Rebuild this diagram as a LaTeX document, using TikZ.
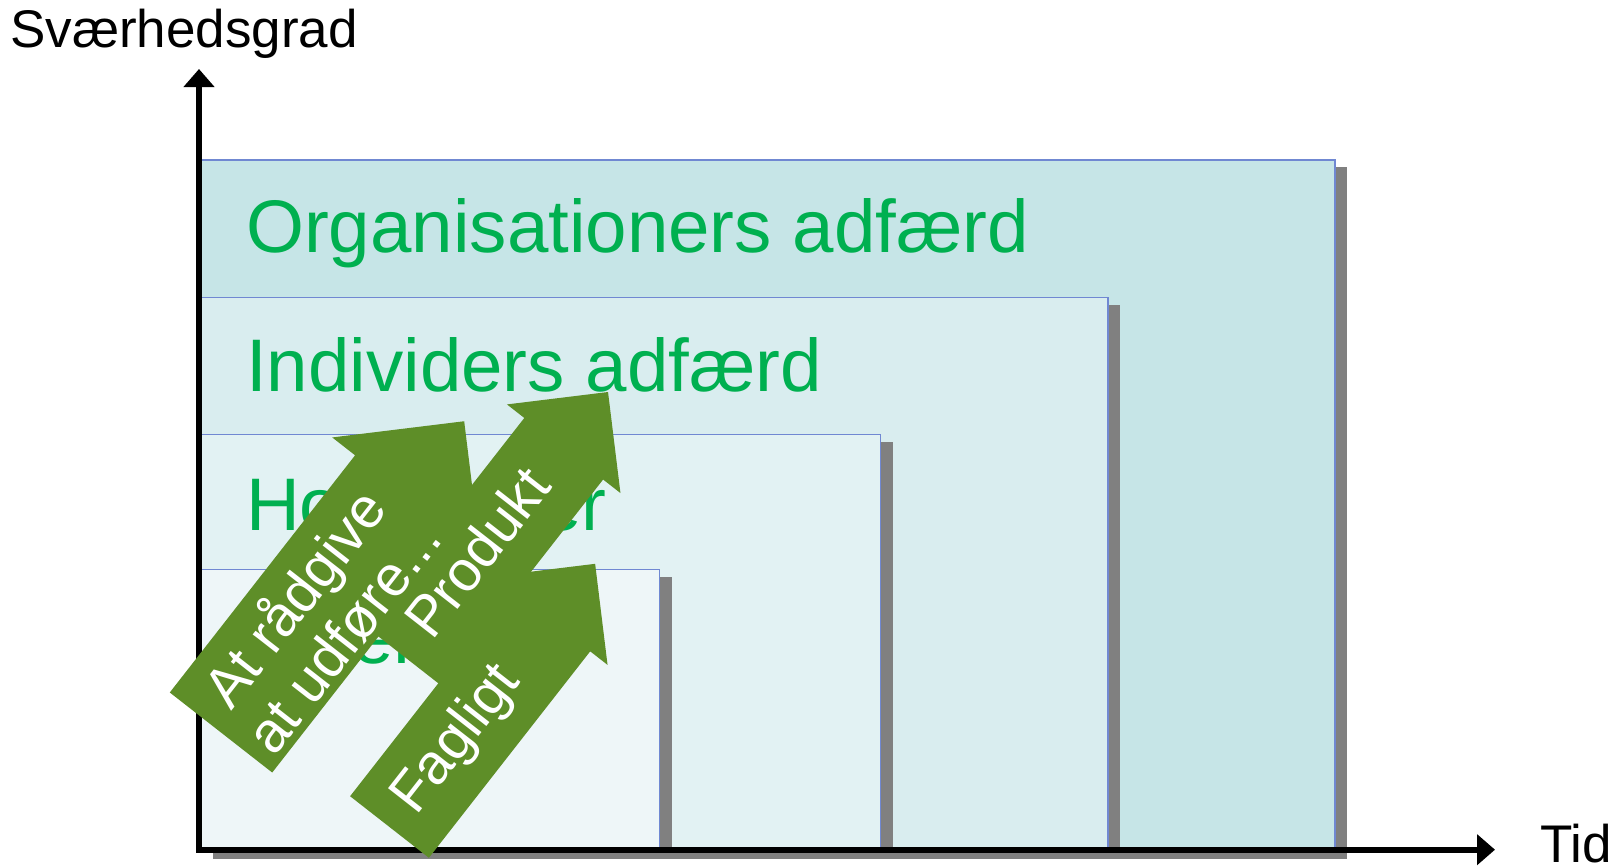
\documentclass[tikz,border=0pt]{standalone}
\usepackage{fontspec}
\setmainfont{Liberation Sans}
\usetikzlibrary{arrows.meta}
\definecolor{orgfill}{HTML}{C6E5E7}
\definecolor{indfill}{HTML}{D9EDEF}
\definecolor{holdfill}{HTML}{E2F2F3}
\definecolor{videnfill}{HTML}{EEF6F8}
\definecolor{boxline}{HTML}{7088D2}
\definecolor{shadowgray}{HTML}{808080}
\definecolor{levelgreen}{HTML}{00B050}
\definecolor{arrowgreen}{HTML}{5E8E28}
\begin{document}
\begin{tikzpicture}[x=1pt,y=-1pt,
  levelbox/.style={draw=boxline, line width=1.8pt},
  boxshadow/.style={fill=shadowgray, draw=none},
  leveltext/.style={text=levelgreen, anchor=base west, inner sep=0pt,
    font=\fontsize{74.5}{89}\selectfont},
  axisline/.style={line width=6pt, -{Triangle[length=18pt,width=30pt]}},
  axislabel/.style={anchor=base west, inner sep=0pt,
    font=\fontsize{53}{64}\selectfont},
  blockarrow/.style={fill=arrowgreen, draw=none},
  arrowtext/.style={text=white, align=center, inner sep=0pt, transform shape,
    font=\fontsize{57}{62}\selectfont}]
\useasboundingbox (0,0) rectangle (1624,867);

% nested levels, each with its drop shadow
\fill[boxshadow] (213,167) rectangle (1347,859);
\filldraw[levelbox, fill=orgfill] (201,160) rectangle (1335,852);
\fill[boxshadow] (213,304.5) rectangle (1120,859);
\filldraw[levelbox, fill=indfill] (201,297.5) rectangle (1108,852);
\fill[boxshadow] (213,441.5) rectangle (892.5,859);
\filldraw[levelbox, fill=holdfill] (201,434.5) rectangle (880.5,852);
\fill[boxshadow] (213,576.5) rectangle (671.5,859);
\filldraw[levelbox, fill=videnfill] (201,569.5) rectangle (659.5,852);

\node[leveltext] (org) at (246,252) {Organisationers adfærd};
\node[leveltext] (ind) at (246,391) {Individers adfærd};
\node[leveltext] (hold) at (246,530) {Holdninger};
\node[leveltext] (viden) at (246,663) {Viden};

% axes
\coordinate (ybottom) at (199,852.7);
\coordinate (ytop) at (199,69);
\coordinate (xleft) at (196,849.7);
\coordinate (xright) at (1495,849.7);
\draw[axisline] (ybottom) -- (ytop);
\draw[axisline] (xleft) -- (xright);
\node[axislabel] (ylabel) at (10,48) {Sværhedsgrad};
\node[axislabel] (xlabel) at (1540,862) {Tid};

% block arrows
\begin{scope}[shift={(221,732.5)}, rotate=52]
  \fill[blockarrow] (0,-65) -- (301,-65) -- (301,-94) -- (395,0)
    -- (301,94) -- (301,65) -- (0,65) -- cycle;
\end{scope}
\begin{scope}[shift={(402.4,655.2)}, rotate=52]
  \fill[blockarrow] (0,-50) -- (262,-50) -- (262,-72) -- (334,0)
    -- (262,72) -- (262,50) -- (0,50) -- cycle;
\end{scope}
\begin{scope}[shift={(389.5,827)}, rotate=52]
  \fill[blockarrow] (0,-50) -- (262,-50) -- (262,-72) -- (334,0)
    -- (262,72) -- (262,50) -- (0,50) -- cycle;
\end{scope}

% arrow captions
\begin{scope}[shift={(221,732.5)}, rotate=52]
  \node[arrowtext] (raad) at (151,4) {At rådgive\\at udføre...};
\end{scope}
\begin{scope}[shift={(402.4,655.2)}, rotate=52]
  \node[arrowtext] (produkt) at (127,-5) {Produkt};
\end{scope}
\begin{scope}[shift={(389.5,827)}, rotate=52]
  \node[arrowtext] (fagligt) at (110,0) {Fagligt};
\end{scope}
\end{tikzpicture}
\end{document}
